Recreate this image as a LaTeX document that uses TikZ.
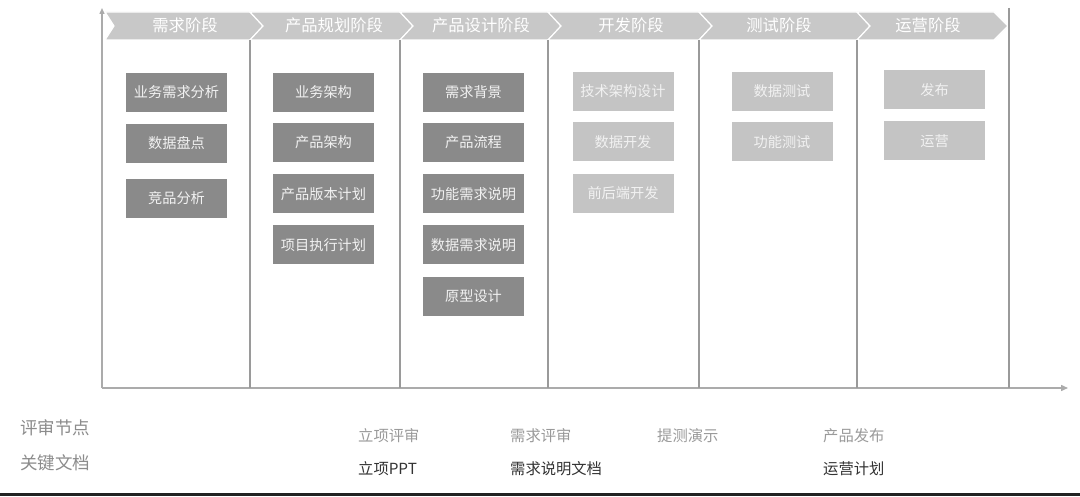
\documentclass[tikz,border=0pt]{standalone}
\usepackage{fontspec}
\setmainfont{Noto Sans CJK SC}
\usetikzlibrary{arrows.meta}
\definecolor{chevgray}{HTML}{C8C8C8}
\definecolor{boxdark}{HTML}{8A8A8A}
\definecolor{boxlight}{HTML}{C4C4C4}
\definecolor{axisgray}{HTML}{ABABAB}
\definecolor{labelgray}{HTML}{8C8C8C}
\definecolor{reviewgray}{HTML}{9A9A9A}
\definecolor{docdark}{HTML}{333333}
\definecolor{baseline}{HTML}{222222}
\tikzset{
  chev/.style={fill=chevgray, draw=white, line width=1.2pt, line join=miter},
  chevtext/.style={text=white, font=\fontsize{16.3}{18}\selectfont, inner sep=0pt},
  darkbox/.style={fill=boxdark, minimum width=101pt, minimum height=39pt, inner sep=0pt, text=white!95!black, font=\fontsize{14.2}{16}\selectfont},
  lightbox/.style={darkbox, fill=boxlight},
  axisline/.style={draw=axisgray, line width=1.4pt},
  divline/.style={draw=axisgray!90!black, line width=1.3pt},
  sidelabel/.style={anchor=west, inner sep=0pt, text=labelgray, font=\fontsize{17.5}{19}\selectfont},
  reviewtext/.style={anchor=west, inner sep=0pt, text=reviewgray, font=\fontsize{15.3}{17}\selectfont},
  doctext/.style={anchor=west, inner sep=0pt, text=docdark, font=\fontsize{15.3}{17}\selectfont},
}
\begin{document}
\begin{tikzpicture}[x=1pt,y=-1pt]
\useasboundingbox[fill=white] (0,0) rectangle (1080,497);

% chevron band
\fill[chev] (105,12) -- (250,12) -- (263,26) -- (250,40) -- (105,40) -- (114,26) -- cycle;
\fill[chev] (250,12) -- (400,12) -- (413,26) -- (400,40) -- (250,40) -- (263,26) -- cycle;
\fill[chev] (400,12) -- (548,12) -- (561,26) -- (548,40) -- (400,40) -- (413,26) -- cycle;
\fill[chev] (548,12) -- (699,12) -- (712,26) -- (699,40) -- (548,40) -- (561,26) -- cycle;
\fill[chev] (699,12) -- (857,12) -- (870,26) -- (857,40) -- (699,40) -- (712,26) -- cycle;
\fill[chev] (857,12) -- (994,12) -- (1008,26) -- (994,40) -- (857,40) -- (870,26) -- cycle;
\draw[chev] (105,12) -- (250,12) -- (263,26) -- (250,40) -- (105,40) -- (114,26) -- cycle;
\draw[chev] (250,12) -- (400,12) -- (413,26) -- (400,40) -- (250,40) -- (263,26) -- cycle;
\draw[chev] (400,12) -- (548,12) -- (561,26) -- (548,40) -- (400,40) -- (413,26) -- cycle;
\draw[chev] (548,12) -- (699,12) -- (712,26) -- (699,40) -- (548,40) -- (561,26) -- cycle;
\draw[chev] (699,12) -- (857,12) -- (870,26) -- (857,40) -- (699,40) -- (712,26) -- cycle;
\draw[chev] (857,12) -- (994,12) -- (1008,26) -- (994,40) -- (857,40) -- (870,26) -- cycle;

\node[chevtext] (s1) at (185,25) {需求阶段};
\node[chevtext] (s2) at (334,25) {产品规划阶段};
\node[chevtext] (s3) at (481,25) {产品设计阶段};
\node[chevtext] (s4) at (631,25) {开发阶段};
\node[chevtext] (s5) at (779,25) {测试阶段};
\node[chevtext] (s6) at (928,25) {运营阶段};

% axes
\coordinate (origin) at (102,388);
\coordinate (ytop) at (102,8);
\coordinate (xend) at (1068,388);
\draw[axisline, -{Triangle[length=6pt,width=5pt]}] (origin) -- (ytop);
\draw[axisline, -{Triangle[length=7pt,width=6pt]}] (origin) -- (xend);

% dividers
\coordinate (d1t) at (250,40); \coordinate (d1b) at (250,388);
\coordinate (d2t) at (400,40); \coordinate (d2b) at (400,388);
\coordinate (d3t) at (548,40); \coordinate (d3b) at (548,388);
\coordinate (d4t) at (699,40); \coordinate (d4b) at (699,388);
\coordinate (d5t) at (857,40); \coordinate (d5b) at (857,388);
\coordinate (d6t) at (1009,8); \coordinate (d6b) at (1009,388);
\draw[divline] (d1t) -- (d1b);
\draw[divline] (d2t) -- (d2b);
\draw[divline] (d3t) -- (d3b);
\draw[divline] (d4t) -- (d4b);
\draw[divline] (d5t) -- (d5b);
\draw[divline] (d6t) -- (d6b);

% column 1
\node[darkbox] (a1) at (176.5,92.5) {业务需求分析};
\node[darkbox] (a2) at (176.5,143.5) {数据盘点};
\node[darkbox] (a3) at (176.5,198.5) {竞品分析};
% column 2
\node[darkbox] (b1) at (323.5,92.5) {业务架构};
\node[darkbox] (b2) at (323.5,142.5) {产品架构};
\node[darkbox] (b3) at (323.5,194) {产品版本计划};
\node[darkbox] (b4) at (323.5,245) {项目执行计划};
% column 3
\node[darkbox] (c1) at (473.5,92.5) {需求背景};
\node[darkbox] (c2) at (473.5,142.5) {产品流程};
\node[darkbox] (c3) at (473.5,194) {功能需求说明};
\node[darkbox] (c4) at (473.5,245) {数据需求说明};
\node[darkbox] (c5) at (473.5,296.5) {原型设计};
% column 4
\node[lightbox] (e1) at (623,91.5) {技术架构设计};
\node[lightbox] (e2) at (623,142) {数据开发};
\node[lightbox] (e3) at (623,193.5) {前后端开发};
% column 5
\node[lightbox] (f1) at (782,91.5) {数据测试};
\node[lightbox] (f2) at (782,142) {功能测试};
% column 6
\node[lightbox] (g1) at (934.5,90) {发布};
\node[lightbox] (g2) at (934.5,141) {运营};

% bottom labels
\node[sidelabel] (l1) at (20,428) {评审节点};
\node[sidelabel] (l2) at (20,463) {关键文档};
\node[reviewtext] (r1) at (358,436) {立项评审};
\node[reviewtext] (r2) at (510,436) {需求评审};
\node[reviewtext] (r3) at (657,436) {提测演示};
\node[reviewtext] (r4) at (823,436) {产品发布};
\node[doctext] (k1) at (358,469) {立项PPT};
\node[doctext] (k2) at (510,469) {需求说明文档};
\node[doctext] (k3) at (823,469) {运营计划};

% bottom rule
\coordinate (bl) at (0,494.5);
\coordinate (br) at (1080,494.5);
\draw[draw=baseline, line width=2.5pt] (bl) -- (br);
\end{tikzpicture}
\end{document}
